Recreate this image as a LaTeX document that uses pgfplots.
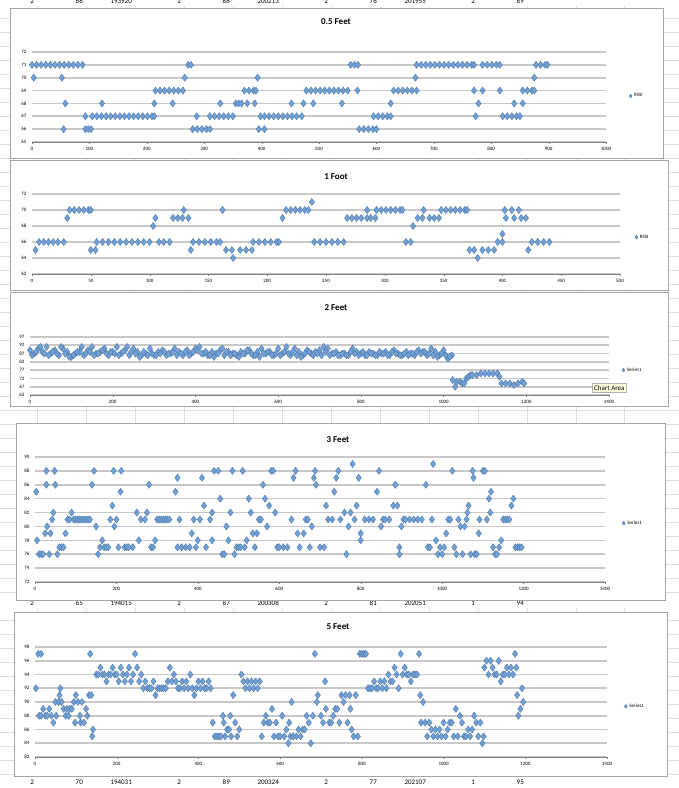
\documentclass[border=0pt]{standalone}
\usepackage{pgfplots}
\pgfplotsset{compat=1.18}
\usepackage{fontspec}
\setmainfont{Carlito}
\definecolor{mk}{RGB}{115,160,210}
\definecolor{mkd}{RGB}{70,115,170}
\definecolor{gl}{RGB}{200,200,200}
\pgfplotsset{
 ch/.style={scale only axis, clip=false,
  /pgf/number format/assume math mode=true,
  ticklabel style={font=\fontsize{5}{6}\selectfont},
  ymajorgrids, major grid style={gl,line width=1.6pt},
  y axis line style={draw=none}, x axis line style={gray},
  axis x line*=bottom, axis y line*=left,
  ytick style={draw=none}, xtick style={gray}, tick align=outside, major tick length=2pt,
  /pgf/number format/1000 sep={},
  legend style={draw=none,fill=none,font=\fontsize{5}{6}\selectfont,anchor=west,inner sep=0pt},
  legend cell align=left, legend image post style={mark size=2pt},
 },
 pts/.style={only marks, mark=diamond*, mark size=3.6pt, mark options={fill=mk,draw=mkd,line width=0.3pt}},
}
\begin{document}
\begin{tikzpicture}[x=1pt,y=1pt]
\useasboundingbox (0,0) rectangle (679,788);
\fill[white] (0,0) rectangle (679,788);
% spreadsheet grid
\foreach \yy in {0,14,...,788}{\draw[gray!25,line width=0.4pt] (0,\yy) -- (679,\yy);}
\foreach \xx in {37,86,135,184,233,282,331,380,429,478,527,576,624}{\draw[gray!25,line width=0.4pt] (\xx,0) -- (\xx,788);}
\fill[white] (0,782) rectangle (679,788);
\foreach \xx/\t in {37/2,86/66,135/193920,184/2,233/88,282/200213,331/2,380/76,429/201955,478/2,527/89}{\node[anchor=east,font=\fontsize{7}{8}\selectfont,inner sep=1pt] at (\xx-2,787) {\t};}
\fill[white] (0,180) rectangle (679,192);
\foreach \xx/\t in {37/2,86/65,135/194015,184/2,233/87,282/200308,331/2,380/81,429/202051,478/1,527/94}{\node[anchor=east,font=\fontsize{7}{8}\selectfont,inner sep=1pt] at (\xx-2,185) {\t};}
\fill[white] (0,0) rectangle (679,11);
\foreach \xx/\t in {37/2,86/70,135/194031,184/2,233/89,282/200324,331/2,380/77,429/202107,478/1,527/95}{\node[anchor=east,font=\fontsize{7}{8}\selectfont,inner sep=1pt] at (\xx-2,6) {\t};}
% frames
\foreach \a/\b/\c/\d in {10/630/663/780,10/498/668/628,10/382/668/496,16/188/665/365,14/12/667/176}{\filldraw[fill=white,draw=gray!70,line width=0.8pt] (\a,\b) rectangle (\c,\d);}
\node[font=\bfseries\fontsize{9}{10}\selectfont] at (336,766) {0.5 Feet};
\node[font=\bfseries\fontsize{9}{10}\selectfont] at (336,611) {1 Foot};
\node[font=\bfseries\fontsize{9}{10}\selectfont] at (336,480) {2 Feet};
\node[font=\bfseries\fontsize{9}{10}\selectfont] at (338,348) {3 Feet};
\node[font=\bfseries\fontsize{9}{10}\selectfont] at (338,161) {5 Feet};

\begin{axis}[ch, at={(32pt,646pt)}, anchor=south west, width=574pt, height=90pt,
 xmin=0,xmax=1000,ymin=65,ymax=72,xtick={0,100,...,1000},ytick={65,...,72},
 legend style={at={(1.04,0.51)}}]
\addplot[pts] coordinates {(0,71)(8,71)(16,71)(24,71)(32,71)(40,71)(48,71)(56,71)(64,71)(72,71)(80,71)(88,71)(272,71)(277,71)(555,71)(562,71)(568,71)(670,71)(678,71)(686,71)(694,71)(702,71)(710,71)(718,71)(726,71)(734,71)(742,71)(750,71)(758,71)(766,71)(770,71)(785,71)(793,71)(801,71)(809,71)(815,71)(878,71)(886,71)(894,71)(898,71)
(3,70)(52,70)(266,70)(393,70)(668,70)(875,70)
(215,69)(223,69)(231,69)(239,69)(247,69)(255,69)(263,69)(370,69)(378,69)(386,69)(390,69)(478,69)(486,69)(494,69)(502,69)(510,69)(518,69)(526,69)(534,69)(542,69)(550,69)(567,69)(630,69)(638,69)(646,69)(654,69)(662,69)(670,69)(770,69)(785,69)(815,69)(855,69)(863,69)(871,69)(875,69)
(58,68)(122,68)(213,68)(245,68)(328,68)(355,68)(360,68)(365,68)(375,68)(388,68)(452,68)(473,68)(490,68)(540,68)(625,68)(778,68)(840,68)(855,68)
(93,67)(105,67)(113,67)(121,67)(129,67)(137,67)(145,67)(153,67)(161,67)(169,67)(177,67)(185,67)(193,67)(201,67)(209,67)(213,67)(287,67)(310,67)(318,67)(326,67)(334,67)(342,67)(350,67)(398,67)(405,67)(413,67)(421,67)(429,67)(437,67)(445,67)(453,67)(461,67)(470,67)(595,67)(603,67)(611,67)(619,67)(625,67)(773,67)(820,67)(828,67)(836,67)(844,67)(850,67)
(55,66)(93,66)(98,66)(103,66)(280,66)(288,66)(296,66)(304,66)(310,66)(395,66)(405,66)(570,66)(578,66)(586,66)(594,66)(600,66)};
\addlegendentry{RSSI}
\end{axis}

\begin{axis}[ch, at={(32pt,514pt)}, anchor=south west, width=588pt, height=80pt,
 xmin=0,xmax=500,ymin=62,ymax=72,xtick={0,50,...,500},ytick={62,64,...,72},
 legend style={at={(1.025,0.46)}}]
\addplot[pts] coordinates {(3,65)(50,65)(54,65)(135,65)(165,65)(170,65)(177,65)(182,65)(187,65)(372,65)(376,65)(383,65)(388,65)(393,65)(422,65)
(6,66)(10,66)(14,66)(18,66)(22,66)(27,66)(55,66)(60,66)(65,66)(70,66)(75,66)(80,66)(85,66)(90,66)(95,66)(100,66)(108,66)(112,66)(117,66)(137,66)(142,66)(147,66)(152,66)(157,66)(160,66)(188,66)(193,66)(198,66)(203,66)(208,66)(210,66)(240,66)(245,66)(250,66)(255,66)(260,66)(265,66)(318,66)(322,66)(396,66)(400,66)(425,66)(430,66)(435,66)(440,66)
(171,64)(379,64)(400,67)(103,68)(324,68)
(30,69)(105,69)(120,69)(124,69)(128,69)(133,69)(213,69)(268,69)(272,69)(276,69)(280,69)(285,69)(288,69)(292,69)(328,69)(332,69)(338,69)(342,69)(346,69)(403,69)(410,69)(416,69)(420,69)
(32,70)(36,70)(40,70)(44,70)(48,70)(50,70)(129,70)(162,70)(216,70)(220,70)(224,70)(228,70)(232,70)(235,70)(285,70)(293,70)(297,70)(301,70)(305,70)(309,70)(313,70)(315,70)(333,70)(348,70)(352,70)(356,70)(360,70)(364,70)(368,70)(370,70)(402,70)(408,70)(414,70)(238,71)};
\addlegendentry{RSSI}
\end{axis}

\begin{axis}[ch, at={(30pt,393pt)}, anchor=south west, width=579pt, height=58pt,
 xmin=0,xmax=1400,ymin=62,ymax=97,xtick={0,200,...,1400},ytick={62,67,...,97},
 legend style={at={(1.022,0.43)}}]
\addplot[pts] coordinates {(0,89)(10,87)(20,90)(30,88)(40,91)(50,87)(60,89)(70,86)(80,90)(90,88)(100,85)(110,87)(120,88)(130,86)(140,89)(150,91)(160,87)(170,88)(180,90)(190,86)(200,88)(210,91)(220,87)(230,89)(240,86)(250,90)(260,88)(270,86)(280,87)(290,90)(300,86)(310,88)(320,89)(330,86)(340,87)(350,90)(360,88)(370,86)(380,89)(390,87)(400,90)(410,91)(420,87)(430,86)(440,88)(450,87)(460,89)(470,86)(480,88)(490,87)(500,86)(510,88)(520,87)(530,89)(540,86)(550,88)(560,90)(570,87)(580,88)(590,86)(600,90)(610,87)(620,91)(630,86)(640,90)(650,88)(660,86)(670,89)(680,87)(690,88)(700,89)(710,91)(720,90)(730,87)(740,88)(750,86)(760,87)(770,86)(780,90)(790,88)(800,87)(810,86)(820,88)(830,87)(840,86)(850,87)(860,88)(870,86)(880,89)(890,87)(900,86)(910,88)(920,87)(930,86)(940,89)(950,88)(960,86)(970,90)(980,88)(990,86)(1000,89)(1010,84)(1020,86)
(5,86)(15,88)(25,91)(35,87)(45,86)(55,88)(65,87)(75,91)(85,87)(95,85)(105,86)(115,88)(125,91)(135,87)(145,88)(155,86)(165,87)(175,89)(185,87)(195,88)(205,87)(215,86)(225,88)(235,91)(245,88)(255,87)(265,85)(275,88)(285,86)(295,87)(305,86)(315,87)(325,88)(335,87)(345,88)(355,86)(365,87)(375,88)(385,86)(395,88)(405,89)(415,87)(425,88)(435,86)(445,85)(455,87)(465,90)(475,88)(485,86)(495,87)(505,85)(515,87)(525,89)(535,87)(545,86)(555,85)(565,87)(575,88)(585,86)(595,87)(605,86)(615,88)(625,87)(635,88)(645,86)(655,85)(665,87)(675,88)(685,86)(695,87)(705,86)(715,88)(725,86)(735,87)(745,86)(755,87)(765,86)(775,88)(785,87)(795,86)(805,88)(815,86)(825,87)(835,86)(845,88)(855,87)(865,86)(875,88)(885,87)(895,86)(905,87)(915,86)(925,87)(935,88)(945,87)(955,88)(965,87)(975,86)(985,85)(995,87)(1005,86)(1015,85)
(1022,71)(1028,67)(1032,70)(1040,70)(1045,69)(1050,69)(1055,72)(1060,73)(1065,74)(1070,74)(1080,74)(1090,75)(1100,75)(1110,75)(1120,75)(1130,75)(1135,73)(1140,69)(1150,69)(1160,69)(1170,68)(1180,69)(1190,70)(1195,69)};
\addlegendentry{Series1}
\end{axis}
\node[draw=gray!60,fill=yellow!12,font=\fontsize{7}{8}\selectfont,inner sep=2pt,anchor=west] at (592,400) {Chart Area};

\begin{axis}[ch, at={(35pt,206pt)}, anchor=south west, width=570pt, height=125pt,
 xmin=0,xmax=1400,ymin=72,ymax=90,xtick={0,200,...,1400},ytick={72,74,...,90},
 legend style={at={(1.03,0.47)}}]
\addplot[pts] coordinates {(3,85)(5,78)(10,76)(15,76)(20,76)(25,79)(28,88)(28,86)(30,80)(35,76)(38,79)(42,81)(45,82)(48,88)(50,86)(55,76)(60,77)(65,77)(70,77)(75,79)(80,81)(85,81)(90,82)(95,81)(100,81)(105,81)(110,81)(115,81)(120,81)(125,81)(130,81)(135,81)(140,86)(145,88)(150,80)(155,76)(160,77)(165,78)(170,77)(175,77)(180,77)(185,81)(190,83)(193,88)(195,80)(200,81)(205,77)(210,85)(212,88)(220,77)(225,77)(230,77)(240,77)(250,82)(255,78)(260,81)(270,81)(275,82)(280,86)(285,77)(290,77)(295,78)(300,81)(305,81)(310,81)(315,81)(320,81)(325,81)(330,81)(345,85)(350,87)(350,77)(355,81)(360,77)(370,77)(380,77)(385,79)(390,81)(395,77)(400,78)(405,81)(410,87)(415,83)(420,77)(430,81)(435,82)(435,78)(440,88)(450,88)(455,84)(460,76)(465,76)(470,80)(475,78)(480,82)(485,88)(490,76)(495,77)(500,77)(505,77)(510,88)(515,77)(520,78)(525,84)(530,82)(535,79)(540,77)(545,79)(550,81)(555,81)(560,86)(565,84)(570,80)(575,83)(580,88)(585,88)(590,82)(595,77)(600,77)(610,77)(620,77)(630,81)(635,87)(640,88)(645,79)(650,77)(660,79)(665,81)(670,81)(675,77)(680,80)(685,87)(688,88)(690,86)(700,77)(710,77)(715,83)(720,81)(730,81)(735,85)(740,87)(745,88)(750,81)(760,82)(765,76)(770,80)(775,82)(780,89)(785,81)(790,83)(795,87)(800,79)(800,78)(810,81)(820,81)(830,81)(840,85)(845,88)(850,80)(855,81)(860,81)(870,81)(880,83)(885,86)(890,83)(895,77)(895,76)(900,80)(905,81)(910,81)(920,81)(930,81)(940,81)(950,81)(960,86)(965,77)(970,77)(975,81)(978,89)(985,78)(990,76)(995,77)(1000,76)(1005,77)(1010,79)(1015,81)(1020,81)(1025,88)(1030,77)(1035,76)(1040,81)(1045,80)(1050,76)(1055,80)(1060,81)(1062,82)(1065,83)(1070,76)(1075,88)(1077,87)(1080,76)(1085,76)(1090,79)(1092,81)(1100,88)(1105,88)(1110,81)(1115,84)(1118,82)(1120,85)(1125,77)(1130,76)(1135,76)(1140,77)(1145,78)(1150,81)(1155,81)(1160,81)(1165,81)(1170,83)(1175,84)(1180,77)(1185,77)(1190,77)(1195,77)};
\addlegendentry{Series1}
\end{axis}

\begin{axis}[ch, at={(35pt,31pt)}, anchor=south west, width=572pt, height=110pt,
 xmin=0,xmax=1400,ymin=82,ymax=98,xtick={0,200,...,1400},ytick={82,84,...,98},
 legend style={at={(1.03,0.46)}}]
\addplot[pts] coordinates {(2,92)(8,97)(15,97)(10,88)(15,88)(20,89)(25,88)(30,88)(35,89)(40,88)(45,87)(50,90)(52,88)(58,90)(60,91)(62,92)(65,90)(70,89)(75,88)(78,89)(82,88)(85,89)(90,89)(95,90)(98,87)(100,91)(105,90)(110,88)(112,87)(115,90)(120,87)(125,89)(128,88)(132,91)(135,97)(138,91)(140,85)(142,86)(150,94)(155,94)(160,95)(165,94)(170,94)(175,93)(180,94)(185,94)(190,95)(195,94)(200,94)(205,93)(210,95)(215,94)(220,93)(225,94)(230,95)(235,93)(240,94)(245,97)(250,95)(255,93)(260,94)(265,92)(270,93)(275,92)(280,92)(285,92)(290,93)(295,91)(300,92)(305,92)(310,92)(315,92)(320,92)(325,93)(330,95)(335,93)(340,94)(345,93)(350,92)(355,92)(360,93)(365,92)(370,93)(375,92)(380,94)(385,92)(390,91)(395,92)(400,93)(405,92)(410,93)(415,92)(420,92)(425,93)(430,92)(435,87)(440,85)(445,85)(450,85)(455,85)(460,88)(462,87)(465,85)(470,86)(475,86)(478,88)(480,85)(485,91)(490,87)(495,85)(500,86)(505,94)(510,93)(515,92)(520,93)(525,92)(530,93)(535,92)(540,93)(545,92)(550,93)(555,85)(560,87)(565,88)(570,87)(575,87)(580,89)(585,85)(590,87)(595,85)(600,85)(605,88)(610,85)(615,86)(620,84)(622,87)(625,85)(628,90)(632,85)(640,85)(645,86)(650,85)(655,86)(660,86)(665,88)(670,87)(675,84)(680,88)(685,97)(690,90)(692,91)(700,88)(705,87)(710,93)(712,89)(720,87)(725,87)(730,88)(735,89)(740,89)(745,87)(750,91)(755,90)(760,91)(765,87)(770,91)(772,89)(775,86)(780,85)(785,91)(790,85)(795,97)(800,97)(805,97)(810,97)(815,92)(820,92)(825,92)(830,93)(835,92)(840,92)(845,93)(850,92)(855,93)(860,92)(865,94)(870,93)(875,93)(880,95)(885,94)(890,92)(895,97)(900,94)(905,95)(910,94)(915,94)(920,93)(925,94)(930,94)(935,94)(940,97)(943,91)(945,87)(950,90)(955,87)(960,85)(965,87)(970,86)(975,85)(980,86)(985,85)(990,86)(995,85)(1000,87)(1005,85)(1010,86)(1015,87)(1020,87)(1025,85)(1030,89)(1035,85)(1040,88)(1045,87)(1050,85)(1055,85)(1060,86)(1065,85)(1070,86)(1075,88)(1080,87)(1085,85)(1090,87)(1095,84)(1098,85)(1100,95)(1105,96)(1110,94)(1115,96)(1120,95)(1125,94)(1130,94)(1135,96)(1140,93)(1145,94)(1150,94)(1155,95)(1160,94)(1165,95)(1170,94)(1175,97)(1178,95)(1180,91)(1183,88)(1188,89)(1192,92)(1195,90)};
\addlegendentry{Series1}
\end{axis}
\end{tikzpicture}
\end{document}
